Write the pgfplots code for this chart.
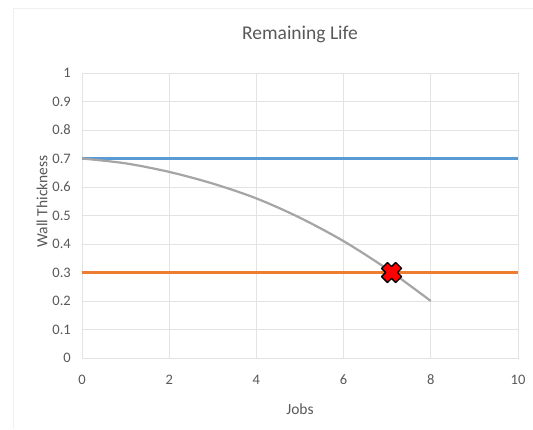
\documentclass[border=0pt]{standalone}
\usepackage{pgfplots}
\pgfplotsset{compat=1.18}
\usepackage{fontspec}
\setmainfont{Carlito}
\definecolor{xblue}{HTML}{5B9BD5}
\definecolor{xorange}{HTML}{ED7D31}
\definecolor{xgrey}{HTML}{A5A5A5}
\definecolor{txt}{HTML}{595959}
\definecolor{gridc}{HTML}{E3E3E3}
\pgfdeclareplotmark{fatx}{%
  \pgftransformrotate{45}%
  \def\a{0.42}%
  \pgfpathmoveto{\pgfqpoint{\a\pgfplotmarksize}{\pgfplotmarksize}}%
  \pgfpathlineto{\pgfqpoint{\a\pgfplotmarksize}{\a\pgfplotmarksize}}%
  \pgfpathlineto{\pgfqpoint{\pgfplotmarksize}{\a\pgfplotmarksize}}%
  \pgfpathlineto{\pgfqpoint{\pgfplotmarksize}{-\a\pgfplotmarksize}}%
  \pgfpathlineto{\pgfqpoint{\a\pgfplotmarksize}{-\a\pgfplotmarksize}}%
  \pgfpathlineto{\pgfqpoint{\a\pgfplotmarksize}{-\pgfplotmarksize}}%
  \pgfpathlineto{\pgfqpoint{-\a\pgfplotmarksize}{-\pgfplotmarksize}}%
  \pgfpathlineto{\pgfqpoint{-\a\pgfplotmarksize}{-\a\pgfplotmarksize}}%
  \pgfpathlineto{\pgfqpoint{-\pgfplotmarksize}{-\a\pgfplotmarksize}}%
  \pgfpathlineto{\pgfqpoint{-\pgfplotmarksize}{\a\pgfplotmarksize}}%
  \pgfpathlineto{\pgfqpoint{-\a\pgfplotmarksize}{\a\pgfplotmarksize}}%
  \pgfpathlineto{\pgfqpoint{-\a\pgfplotmarksize}{\pgfplotmarksize}}%
  \pgfpathclose
  \pgfusepathqfillstroke
}
\begin{document}
\begin{tikzpicture}
\useasboundingbox (0pt,0pt) rectangle (533pt,429pt);
\fill[white] (0pt,0pt) rectangle (533pt,429pt);
\draw[gray!12, line width=0.8pt] (13pt,0pt) -- (13pt,421pt) -- (540pt,421pt);
\begin{axis}[
  at={(82pt,71pt)}, anchor=south west,
  scale only axis, width=436pt, height=285pt,
  xmin=0, xmax=10, ymin=0, ymax=1,
  xtick={0,2,...,10}, ytick={0,0.1,...,1.01},
  yticklabels={0,0.1,0.2,0.3,0.4,0.5,0.6,0.7,0.8,0.9,1},
  grid=major,
  major grid style={draw=gridc, line width=0.9pt},
  axis line style={draw=gridc, line width=0.9pt},
  tick style={draw=none},
  ticklabel style={font=\fontsize{14.5}{16}\selectfont, text=txt, inner sep=0pt},
  /pgf/number format/assume math mode=true,
  xticklabel style={anchor=center, yshift=-22pt},
  yticklabel style={anchor=east, xshift=-11pt},
  title={Remaining Life},
  title style={font=\fontsize{19.5}{22}\selectfont, text=txt,
    at={(axis description cs:0.5,1)}, anchor=center, yshift=33pt},
  xlabel={Jobs}, ylabel={Wall Thickness},
  label style={font=\fontsize{15.5}{18}\selectfont, text=txt},
  xlabel style={at={(axis description cs:0.5,0)}, anchor=center, yshift=-51pt},
  ylabel style={at={(axis description cs:0,0.55)}, anchor=center, yshift=40pt},
]
\addplot[xblue, line width=2.2pt] coordinates {(0,0.7) (10,0.7)};
\addplot[xorange, line width=2.2pt] coordinates {(0,0.3) (10,0.3)};
\addplot[xgrey, line width=2.2pt, smooth] coordinates {
 (0,0.7) (1,0.683) (2,0.653) (3,0.612) (4,0.56) (5,0.492) (6,0.41) (7,0.312) (8,0.2)};
\addplot[only marks, mark=fatx, mark size=10pt,
  mark options={fill=red, draw=black, line width=1.3pt, line join=round}]
  coordinates {(7.1,0.3)};
\end{axis}
\end{tikzpicture}
\end{document}
